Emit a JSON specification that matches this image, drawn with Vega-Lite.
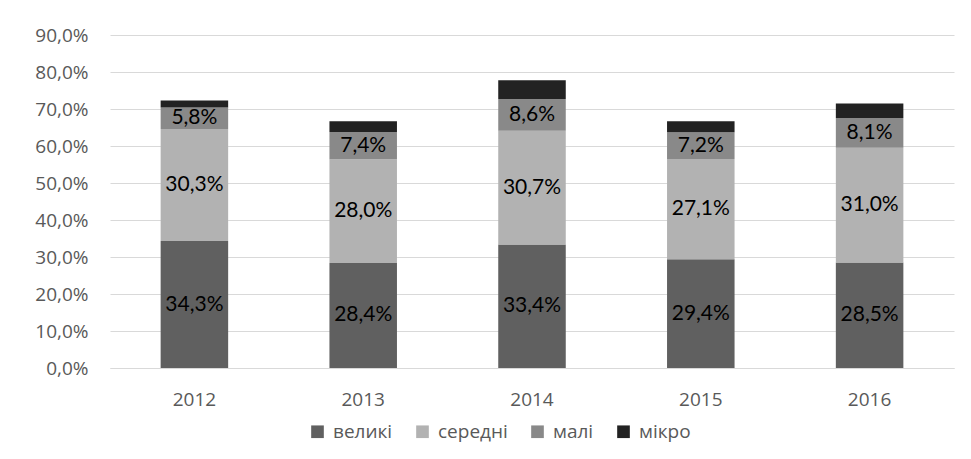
{
  "$schema": "https://vega.github.io/schema/vega-lite/v6.json",
  "autosize": {"type": "none"},
  "width": 844,
  "height": 333,
  "padding": {"left": 110, "top": 35, "right": 17, "bottom": 91},
  "background": "white",
  "config": {
    "view": {"stroke": null},
    "locale": {"number": {"decimal": ",", "thousands": " ", "grouping": [3], "currency": ["", ""]}},
    "axis": {"labelFont": "Open Sans", "labelFontSize": 19, "labelColor": "#595959", "ticks": false, "title": null, "labelOverlap": false}
  },
  "data": {
    "values": [
      {"year": "2012", "cat": "великі", "o": 1, "v": 0.343},
      {"year": "2012", "cat": "середні", "o": 2, "v": 0.303},
      {"year": "2012", "cat": "малі", "o": 3, "v": 0.058},
      {"year": "2012", "cat": "мікро", "o": 4, "v": 0.019},
      {"year": "2013", "cat": "великі", "o": 1, "v": 0.284},
      {"year": "2013", "cat": "середні", "o": 2, "v": 0.280},
      {"year": "2013", "cat": "малі", "o": 3, "v": 0.074},
      {"year": "2013", "cat": "мікро", "o": 4, "v": 0.029},
      {"year": "2014", "cat": "великі", "o": 1, "v": 0.334},
      {"year": "2014", "cat": "середні", "o": 2, "v": 0.307},
      {"year": "2014", "cat": "малі", "o": 3, "v": 0.086},
      {"year": "2014", "cat": "мікро", "o": 4, "v": 0.051},
      {"year": "2015", "cat": "великі", "o": 1, "v": 0.294},
      {"year": "2015", "cat": "середні", "o": 2, "v": 0.271},
      {"year": "2015", "cat": "малі", "o": 3, "v": 0.072},
      {"year": "2015", "cat": "мікро", "o": 4, "v": 0.030},
      {"year": "2016", "cat": "великі", "o": 1, "v": 0.285},
      {"year": "2016", "cat": "середні", "o": 2, "v": 0.310},
      {"year": "2016", "cat": "малі", "o": 3, "v": 0.081},
      {"year": "2016", "cat": "мікро", "o": 4, "v": 0.039}
    ]
  },
  "encoding": {
    "x": {
      "field": "year", "type": "nominal",
      "scale": {"paddingInner": 0.6, "paddingOuter": 0.3},
      "axis": {"labelAngle": 0, "labelPadding": 22, "domainColor": "#d9d9d9", "domainWidth": 1, "grid": false}
    }
  },
  "layer": [
    {
      "mark": {"type": "bar"},
      "encoding": {
        "y": {
          "field": "v", "type": "quantitative", "stack": "zero",
          "scale": {"domain": [0, 0.9], "nice": false},
          "axis": {"format": ".1%", "values": [0, 0.1, 0.2, 0.3, 0.4, 0.5, 0.6, 0.7, 0.8, 0.9], "domain": false, "grid": true, "gridColor": "#d9d9d9", "gridWidth": 1, "labelPadding": 22}
        },
        "color": {
          "field": "cat", "type": "nominal",
          "scale": {"domain": ["великі", "середні", "малі", "мікро"], "range": ["#606060", "#b2b2b2", "#898989", "#222222"]},
          "legend": {
            "orient": "none", "legendX": 198, "legendY": 387, "direction": "horizontal", "title": null,
            "symbolType": "square", "symbolSize": 160, "symbolStrokeWidth": 0,
            "labelFont": "Open Sans", "labelFontSize": 19, "labelColor": "#595959", "columnPadding": 20, "labelOffset": 6
          }
        },
        "order": {"field": "o", "type": "quantitative"}
      }
    },
    {
      "transform": [{"filter": "datum.cat != 'мікро'"}],
      "mark": {"type": "text", "font": "Lato", "fontSize": 21, "color": "#000000", "baseline": "middle"},
      "encoding": {
        "y": {
          "field": "v", "type": "quantitative", "stack": "zero", "bandPosition": 0.5,
          "scale": {"domain": [0, 0.9], "nice": false},
          "axis": {"format": ".1%", "values": [0, 0.1, 0.2, 0.3, 0.4, 0.5, 0.6, 0.7, 0.8, 0.9], "domain": false, "grid": true, "gridColor": "#d9d9d9", "gridWidth": 1, "labelPadding": 22}
        },
        "text": {"field": "v", "type": "quantitative", "format": ".1%"},
        "order": {"field": "o", "type": "quantitative"},
        "detail": {"field": "cat"}
      }
    }
  ]
}
